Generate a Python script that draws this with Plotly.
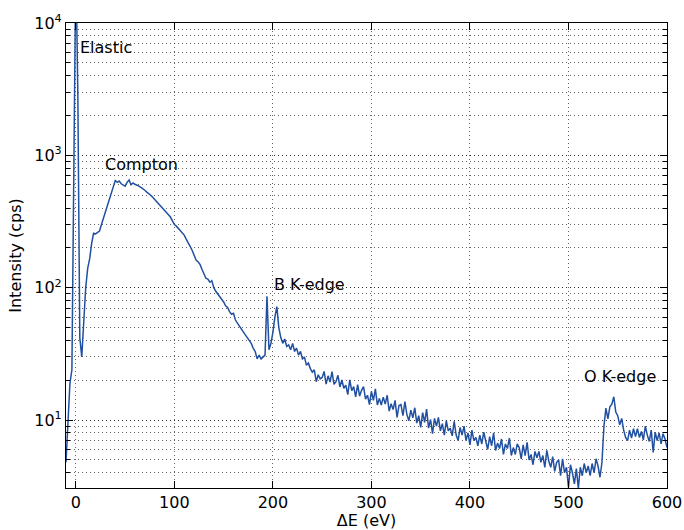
import numpy as np
import plotly.graph_objects as go

# Energy-loss grid (eV), 2 eV sampling from -10 to 600
E_START, E_STOP, E_STEP = -10, 600, 2

intensity = [
    4.8, 10, 19, 24, 600, 30000, 3000, 42, 30, 52,            # -10 .. 8
    100, 140, 165, 215, 258, 255, 260, 268, 300, 335,         # 10 .. 28
    370, 400, 450, 505, 565, 645, 625, 640, 610, 600,         # 30 .. 48
    585, 625, 652, 600, 620, 605, 598, 585, 572, 560,         # 50 .. 68
    545, 528, 515, 500, 482, 465, 448, 428, 412, 396,         # 70 .. 88
    385, 368, 356, 342, 322, 300, 292, 280, 272, 262,         # 90 .. 108
    250, 233, 216, 205, 192, 176, 162, 157, 150, 138,         # 110 .. 128
    126, 118, 116, 110, 113, 100, 94, 90, 85, 82,             # 130 .. 148
    78, 73, 71, 66, 63, 64, 57, 54, 51, 49,                   # 150 .. 168
    46, 44, 42, 40, 38, 35, 33, 29, 31, 29,                   # 170 .. 188
    30, 31, 86, 34, 38, 46, 60, 72, 50, 42,                   # 190 .. 208
    38, 41, 36, 37, 34, 38, 33, 35, 31, 33,                   # 210 .. 228
    29, 30, 26, 27, 24.5, 23, 24, 19.5, 22, 20.5,             # 230 .. 248
    21, 23.3, 18.7, 21.6, 19.4, 23.2, 18.6, 19.5, 21.8, 17.8, # 250 .. 268
    20.1, 17.4, 18.4, 15.6, 20.1, 16.7, 17.9, 15.0, 18.5, 15.2,  # 270 .. 288
    16.8, 17.9, 14.4, 15.4, 13.1, 16.5, 14.1, 17.2, 13.0, 14.6,  # 290 .. 308
    13.0, 14.9, 13.2, 15.4, 11.7, 13.3, 12.0, 14.1, 10.5, 12.9,  # 310 .. 328
    13.1, 10.8, 13.8, 11.0, 9.9, 11.9, 10.4, 12.4, 9.5, 10.8,    # 330 .. 348
    8.8, 11.4, 9.6, 12.1, 8.7, 10.1, 7.9, 10.3, 9.0, 10.5,       # 350 .. 368
    8.3, 9.4, 7.7, 9.9, 8.3, 8.7, 7.6, 9.8, 7.7, 7.0,            # 370 .. 388
    8.8, 7.7, 9.0, 7.0, 8.0, 6.5, 8.4, 7.0, 7.4, 6.4,            # 390 .. 408
    7.7, 6.6, 8.1, 6.9, 6.0, 7.5, 6.4, 8.0, 5.9, 6.7,            # 410 .. 428
    6.1, 7.2, 5.5, 6.6, 6.1, 7.3, 5.4, 6.2, 5.5, 6.6,            # 430 .. 448
    6.2, 5.1, 6.5, 5.4, 6.8, 5.0, 5.5, 4.6, 5.8, 5.2,            # 450 .. 468
    5.8, 4.8, 5.4, 4.4, 5.9, 4.9, 4.4, 5.3, 4.1, 4.8,            # 470 .. 488
    5.0, 3.8, 5.1, 4.0, 4.4, 3.1, 4.6, 4.0, 3.3, 4.3,            # 490 .. 508
    3.05, 4.4, 3.8, 4.7, 4.0, 4.5, 3.8, 4.7, 4.0, 5.1,           # 510 .. 528
    4.5, 3.7, 4.8, 9.0, 12.3, 10.2, 12.6, 13.2, 15, 11.5,        # 530 .. 548
    10.8, 9.2, 10.3, 8.4, 7.4, 7.0, 8.4, 7.3, 8.6, 7.5,          # 550 .. 568
    8.6, 7.4, 8.2, 7.1, 9.0, 7.7, 6.9, 8.4, 5.7, 8.1,            # 570 .. 588
    7.0, 8.0, 6.6, 7.9, 7.2, 6.2,                                # 590 .. 600
]

energy = np.arange(E_START, E_STOP + 1, E_STEP)

labels = ["Elastic", "Compton", "B K-edge", "O K-edge"]
label_x = [4.6, 29.9, 201.2, 515.7]
label_y = [6500, 860, 106, 21.4]

x_ticks = [0, 100, 200, 300, 400, 500, 600]
y_ticks = [10, 100, 1000, 10000]
y_ticktext = ["10<sup>1</sup>", "10<sup>2</sup>", "10<sup>3</sup>", "10<sup>4</sup>"]

FONT = "DejaVu Sans"
GRID = "rgba(0,0,0,0.6)"
DOT = "1px,3px"

fig = go.Figure()
fig.add_trace(go.Scatter(
    x=energy, y=intensity, mode="lines",
    line=dict(color="#2150a2", width=1.5),
    showlegend=False,
))

for t, xv, yv in zip(labels, label_x, label_y):
    fig.add_annotation(
        x=xv, y=np.log10(yv), xref="x", yref="y", text=t,
        showarrow=False, xanchor="left", yanchor="middle", xshift=-2,
        font=dict(family=FONT, size=16, color="black"),
    )

fig.update_layout(
    width=684, height=530,
    margin=dict(l=66, r=17, t=23, b=42),
    paper_bgcolor="white", plot_bgcolor="white",
    font=dict(family=FONT, size=16, color="black"),
)
fig.update_xaxes(
    range=[-10, 600], tickvals=x_ticks, automargin=False,
    showline=True, linecolor="black", linewidth=1.2, mirror="ticks",
    ticks="inside", ticklen=7, tickcolor="black",
    showgrid=True, gridcolor=GRID, griddash=DOT, gridwidth=1,
    zeroline=False,
    title=dict(text="ΔE (eV)", font=dict(size=16), standoff=2),
    tickfont=dict(size=16),
)
fig.update_yaxes(
    type="log", range=[0.487, 4], automargin=False,
    tickvals=y_ticks, ticktext=y_ticktext,
    showline=True, linecolor="black", linewidth=1.2, mirror="ticks",
    ticks="inside", ticklen=7, tickcolor="black",
    showgrid=True, gridcolor=GRID, griddash=DOT, gridwidth=1,
    minor=dict(dtick="D1", ticks="inside", ticklen=4, tickcolor="black",
               showgrid=True, gridcolor=GRID, griddash=DOT, gridwidth=1),
    zeroline=False,
    title=dict(text="Intensity (cps)", font=dict(size=16), standoff=8),
    tickfont=dict(size=16),
)

fig.write_html(
    "out.html",
    config={"displayModeBar": False},
    post_script="document.body.style.margin='0';document.body.style.overflow='hidden';",
)
